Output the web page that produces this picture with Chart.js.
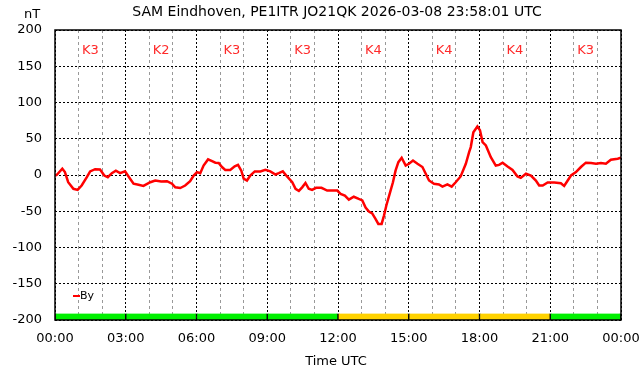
<!DOCTYPE html>
<html>
<head>
<meta charset="utf-8">
<script src="https://cdn.jsdelivr.net/npm/chart.js@4/dist/chart.umd.min.js"></script>
<style>
html,body{margin:0;padding:0;background:#fff;}
#wrap{width:642px;height:376px;position:relative;}
</style>
</head>
<body>
<div id="wrap"><canvas id="c" width="642" height="376"></canvas></div>
<script>
// ---- data ----
const titleText = 'SAM Eindhoven, PE1ITR JO21QK 2026-03-08 23:58:01 UTC';
const hours = [0,0.07,0.31,0.42,0.56,0.78,0.96,1.13,1.35,1.49,1.70,1.91,2.09,2.24,2.41,2.58,2.76,2.97,3.14,3.33,3.54,3.75,4.04,4.25,4.50,4.75,4.96,5.10,5.31,5.52,5.73,5.88,6.02,6.16,6.30,6.49,6.66,6.80,6.94,7.08,7.22,7.43,7.62,7.76,7.90,8.00,8.14,8.28,8.47,8.71,8.92,9.13,9.35,9.49,9.66,9.84,10.06,10.20,10.34,10.48,10.62,10.76,10.90,11.07,11.30,11.54,11.75,11.97,12.11,12.29,12.46,12.67,12.88,13.03,13.17,13.31,13.45,13.59,13.71,13.85,13.95,14.05,14.19,14.33,14.44,14.56,14.70,14.87,15.01,15.18,15.37,15.58,15.72,15.86,16.07,16.28,16.43,16.64,16.82,16.99,17.20,17.42,17.56,17.63,17.74,17.91,18.02,18.13,18.27,18.48,18.69,18.83,18.98,19.19,19.40,19.61,19.75,19.97,20.18,20.39,20.53,20.68,20.89,21.17,21.45,21.59,21.74,21.88,22.09,22.30,22.51,22.73,22.94,23.15,23.36,23.57,23.86,24.00];
const byValues = [-1,0,8.6,4,-10,-19,-20.5,-14.5,-3,5,8,7.6,-0.7,-3,2.5,6,2.5,5,-3,-12,-13.5,-15,-10,-7.6,-9,-8.5,-12,-17,-18,-14.5,-8.5,-0.7,4,2.5,13,21.5,19,17,16.5,11,7,7,12,14,6,-5,-7.6,-0.7,5,5,7,5,0.7,2.5,5,-2,-10,-19,-22,-17,-11,-19,-20.5,-17.7,-17.7,-21.5,-21.5,-21.5,-26,-28.4,-34,-30,-33,-35,-45,-50.5,-53,-60.6,-67.5,-67.5,-56,-42,-26,-10,6,17.7,23.8,13,15.5,20,15.5,11,1.7,-7.6,-12,-13,-16,-13,-16,-10,-2,15.5,31.6,38.5,59,67,61.6,45.4,40.8,24.6,13,14,17,11.8,7,-2,-4,1.7,-0.7,-7.6,-14.5,-14.5,-10.4,-10.4,-11.3,-15,-7.6,-0.7,4,11,17,16.5,15.5,16.5,15.5,21,22.4,23.8];
const kBlockCenters = [1.5,4.5,7.5,10.5,13.5,16.5,19.5,22.5];
const kIndex = [3,2,3,3,4,4,4,3];
const kLabels = kIndex.map(k => 'K' + k);
const yTicks = [-200,-150,-100,-50,0,50,100,150,200];
const xTickHours = [0,3,6,9,12,15,18,21,24];

const FONT = "'DejaVu Sans', sans-serif";
const kBarColor = k => (k >= 4 ? '#ffd200' : '#00f000');

const overlay = {
  id: 'overlay',
  afterDatasetsDraw(chart) {
    const ctx = chart.ctx, a = chart.chartArea;
    const xs = chart.scales.x, ys = chart.scales.y;
    ctx.save();
    // frame
    ctx.strokeStyle = '#000'; ctx.lineWidth = 1.5;
    ctx.strokeRect(a.left, a.top, a.right - a.left, a.bottom - a.top);
    // K labels
    ctx.fillStyle = '#ff2a2a';
    ctx.font = '13px ' + FONT;
    ctx.textAlign = 'center'; ctx.textBaseline = 'middle';
    kLabels.forEach((t, i) => ctx.fillText(t, xs.getPixelForValue(kBlockCenters[i]), ys.getPixelForValue(171)));
    // legend
    const ds = chart.data.datasets[0];
    ctx.strokeStyle = ds.borderColor; ctx.lineWidth = 2;
    ctx.beginPath(); ctx.moveTo(73, 296); ctx.lineTo(80, 296); ctx.stroke();
    ctx.fillStyle = '#000'; ctx.font = '11px ' + FONT; ctx.textAlign = 'left';
    ctx.fillText(ds.label, 80, 296);
    // titles
    ctx.font = '14px ' + FONT; ctx.textAlign = 'center';
    ctx.fillText(titleText, 337, 12);
    ctx.font = '13px ' + FONT;
    ctx.fillText('nT', 32, 15);
    ctx.fillText('Time UTC', 336, 362);
    ctx.restore();
  }
};

new Chart(document.getElementById('c'), {
  data: {
    datasets: [
      {
        type: 'line', label: 'By', order: 1, xAxisID: 'x', yAxisID: 'y',
        data: hours.map((h, i) => ({x: h, y: byValues[i]})),
        borderColor: '#ff0000', borderWidth: 2.5, pointRadius: 0, tension: 0, fill: false
      },
      {
        type: 'bar', label: 'K', order: 2, xAxisID: 'x', yAxisID: 'y',
        data: kBlockCenters.map((h, i) => ({x: h, y: [-200, -191]})),
        backgroundColor: kIndex.map(kBarColor),
        borderColor: '#000', borderWidth: {left: 1, right: 1, top: 0, bottom: 0},
        borderSkipped: false, barPercentage: 1, categoryPercentage: 1
      }
    ]
  },
  options: {
    responsive: false, animation: false, devicePixelRatio: 1,
    layout: {padding: {top: 30, right: 21, left: 0, bottom: 0}},
    plugins: {legend: {display: false}, title: {display: false}, tooltip: {enabled: false}},
    scales: {
      x: {
        type: 'linear', position: 'bottom', min: 0, max: 24, offset: false,
        afterBuildTicks: s => { s.ticks = xTickHours.map(v => ({value: v})); },
        ticks: {
          font: {family: FONT, size: 13}, color: '#000', padding: 11, maxRotation: 0, autoSkip: false,
          callback: v => String(v % 24).padStart(2, '0') + ':00'
        },
        grid: {color: '#000', lineWidth: 1, drawTicks: false, offset: false},
        border: {display: false, dash: [2, 2]},
        afterFit: s => { s.height = 56; s.paddingLeft = 0; s.paddingRight = 0; }
      },
      xh: {
        type: 'linear', position: 'bottom', min: 0, max: 24, offset: false,
        ticks: {display: false, stepSize: 1},
        grid: {color: ctx => (ctx.tick && ctx.tick.value % 3 === 0) ? 'rgba(0,0,0,0)' : '#999', lineWidth: 1, drawTicks: false, offset: false},
        border: {display: false, dash: [3, 3]},
        afterFit: s => { s.height = 0; s.paddingLeft = 0; s.paddingRight = 0; }
      },
      y: {
        type: 'linear', min: -200, max: 200,
        afterBuildTicks: s => { s.ticks = yTicks.map(v => ({value: v})); },
        ticks: {font: {family: FONT, size: 13}, color: '#000', padding: 13},
        grid: {color: '#000', lineWidth: 1, drawTicks: false},
        border: {display: false, dash: [2, 2]},
        afterFit: s => { s.width = 55; s.paddingTop = 0; s.paddingBottom = 0; }
      }
    }
  },
  plugins: [overlay]
});
</script>
</body>
</html>
